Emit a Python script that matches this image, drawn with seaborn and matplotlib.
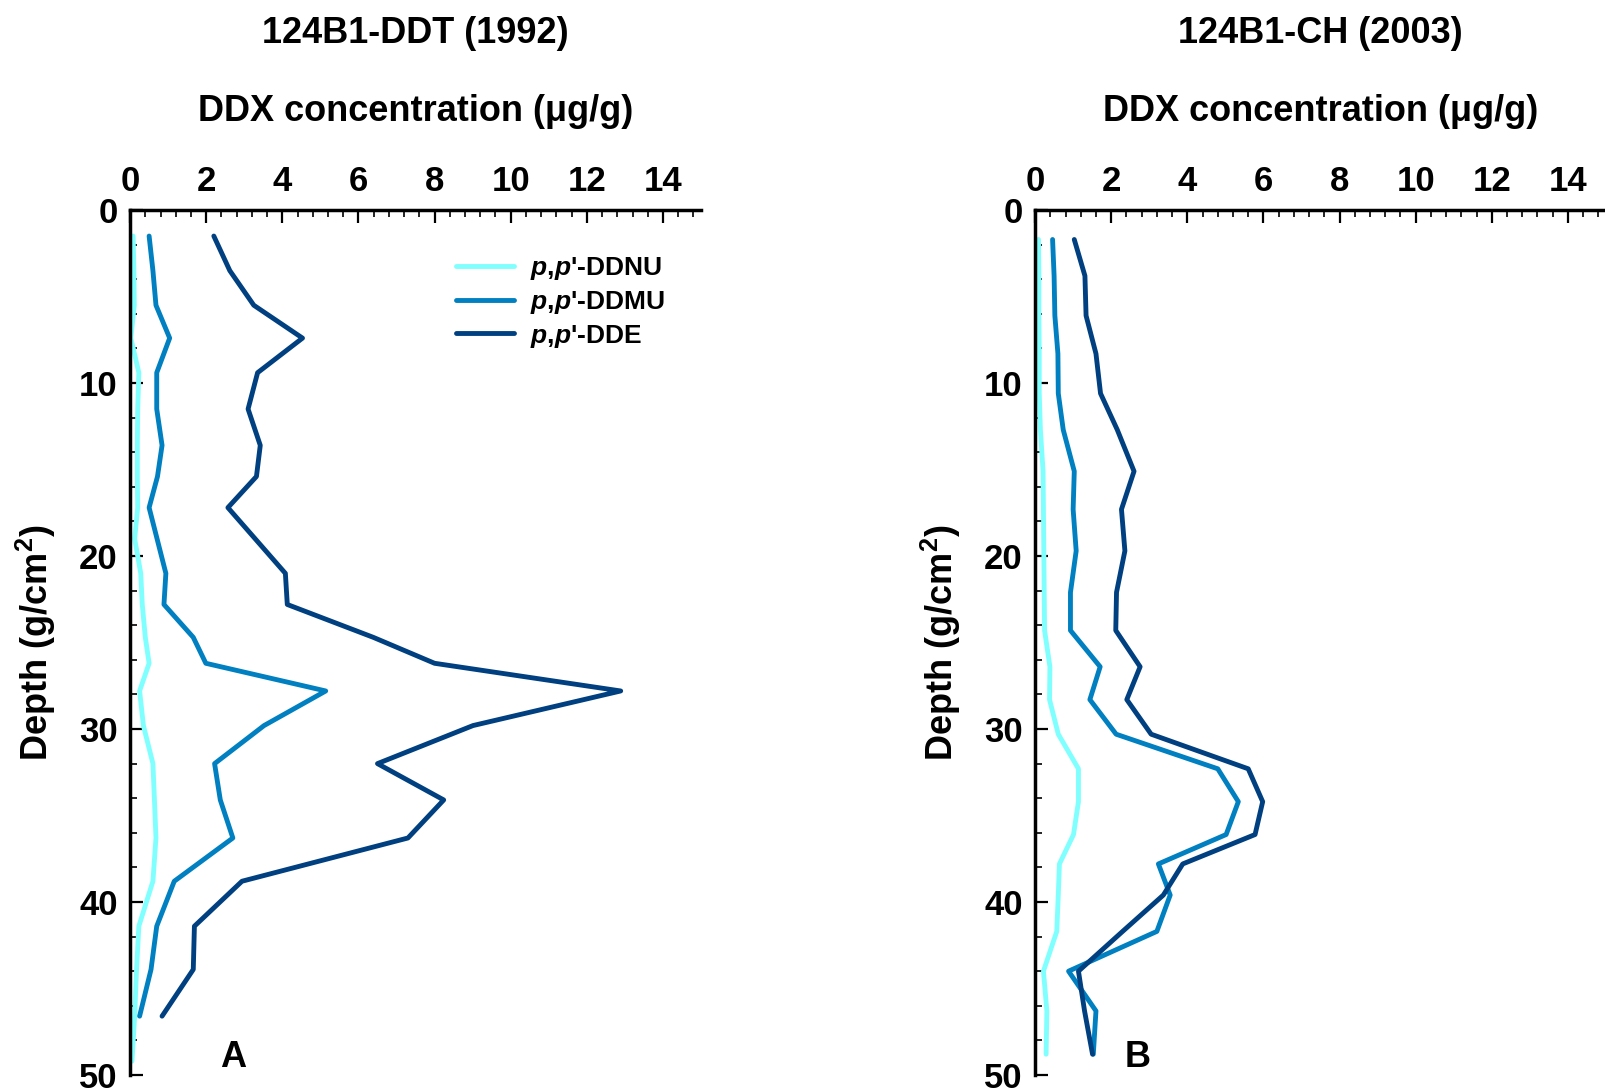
import numpy as np
import pandas as pd
import matplotlib
matplotlib.use('Agg')
import matplotlib.pyplot as plt
from matplotlib.ticker import MultipleLocator
import seaborn as sns

# Core 124B1-DDT (1992), panel A
depth_a = [1.5, 3.5, 5.5, 7.4, 9.4, 11.5, 13.6, 15.4, 17.2, 21.0, 22.8,
           24.7, 26.2, 27.8, 29.8, 32.0, 34.1, 36.3, 38.8, 41.4, 43.9, 46.6]
ddnu_depth_a = [1.5, 3.5, 5.5, 7.4, 9.4, 11.5, 13.6, 15.4, 17.2, 19.0, 21.0, 22.8,
                24.7, 26.2, 27.8, 29.8, 32.0, 34.1, 36.3, 38.8, 41.4, 43.9, 46.6, 49.2]
ddnu_a = [0.08, 0.10, 0.11, 0.02, 0.23, 0.20, 0.19, 0.19, 0.20, 0.12, 0.28, 0.32,
          0.40, 0.50, 0.25, 0.35, 0.60, 0.64, 0.68, 0.60, 0.23, 0.17, 0.12, 0.05]
ddmu_a = [0.50, 0.60, 0.68, 1.04, 0.70, 0.70, 0.84, 0.72, 0.50, 0.94, 0.89,
          1.66, 1.99, 5.14, 3.52, 2.22, 2.37, 2.70, 1.16, 0.70, 0.55, 0.25]
dde_a = [2.20, 2.62, 3.25, 4.53, 3.35, 3.10, 3.42, 3.32, 2.57, 4.08, 4.13,
         6.39, 8.00, 12.89, 9.01, 6.50, 8.24, 7.30, 2.94, 1.69, 1.66, 0.84]

# Core 124B1-CH (2003), panel B
depth_b = [1.7, 3.8, 6.1, 8.3, 10.6, 12.7, 15.1, 17.3, 19.7, 22.1, 24.3, 26.4,
           28.3, 30.3, 32.3, 34.2, 36.1, 37.8, 39.6, 41.7, 44.0, 46.3, 48.8]
ddnu_b = [0.09, 0.10, 0.10, 0.11, 0.11, 0.14, 0.21, 0.22, 0.23, 0.24, 0.25, 0.39,
          0.38, 0.61, 1.14, 1.14, 1.01, 0.64, 0.61, 0.57, 0.22, 0.31, 0.29]
ddmu_b = [0.46, 0.50, 0.52, 0.60, 0.61, 0.74, 1.03, 1.00, 1.08, 0.93, 0.93, 1.71,
          1.44, 2.13, 4.80, 5.34, 5.02, 3.24, 3.55, 3.20, 0.88, 1.60, 1.53]
dde_b = [1.03, 1.31, 1.34, 1.60, 1.72, 2.16, 2.60, 2.27, 2.36, 2.14, 2.12, 2.76,
         2.41, 3.05, 5.60, 5.98, 5.78, 3.88, 3.37, 2.30, 1.14, 1.30, 1.51]

compounds = ["$p$,$p$'-DDNU", "$p$,$p$'-DDMU", "$p$,$p$'-DDE"]
colors = ['#80FFFF', '#0080C0', '#004080']
titles = ['124B1-DDT (1992)', '124B1-CH (2003)']
panel_letters = ['A', 'B']


def long_table(depths, series):
    frames = []
    for name, (d, v) in zip(compounds, zip(depths, series)):
        frames.append(pd.DataFrame({'depth': d, 'conc': v, 'compound': name}))
    return pd.concat(frames, ignore_index=True)


data_a = long_table([ddnu_depth_a, depth_a, depth_a], [ddnu_a, ddmu_a, dde_a])
data_b = long_table([depth_b, depth_b, depth_b], [ddnu_b, ddmu_b, dde_b])

sns.set_theme(style='white')
plt.rcParams['font.family'] = ['Liberation Sans', 'DejaVu Sans']
plt.rcParams['font.weight'] = 'bold'
plt.rcParams['mathtext.fontset'] = 'custom'
plt.rcParams['mathtext.it'] = 'Liberation Sans:bold:italic'
plt.rcParams['mathtext.rm'] = 'Liberation Sans:bold'
plt.rcParams['mathtext.bf'] = 'Liberation Sans:bold'
for key in ['text.color', 'axes.labelcolor', 'xtick.color', 'ytick.color']:
    plt.rcParams[key] = 'black'

fig = plt.figure(figsize=(16.06, 10.92), dpi=100)
ax_a = fig.add_axes([0.081, 0.0156, 0.3555, 0.792])
ax_b = fig.add_axes([0.6445, 0.0156, 0.3555, 0.792])

palette = dict(zip(compounds, colors))
for ax, df, title, letter in zip([ax_a, ax_b], [data_a, data_b], titles, panel_letters):
    sns.lineplot(data=df, x='conc', y='depth', hue='compound', hue_order=compounds,
                 palette=palette, sort=False, estimator=None, orient='y',
                 linewidth=3.5, ax=ax, legend=(ax is ax_a))
    ax.set_xlim(0, 15)
    ax.set_ylim(50, 0)
    ax.xaxis.tick_top()
    ax.xaxis.set_label_position('top')
    ax.xaxis.set_major_locator(MultipleLocator(2))
    ax.xaxis.set_minor_locator(MultipleLocator(0.4))
    ax.yaxis.set_major_locator(MultipleLocator(10))
    ax.yaxis.set_minor_locator(MultipleLocator(2))
    ax.tick_params(which='major', direction='in', length=9, width=1.6,
                   labelsize=25, pad=9, color='black')
    ax.tick_params(which='minor', direction='in', length=5, width=1.2, color='black')
    ax.tick_params(axis='x', which='both', top=True, bottom=False)
    ax.tick_params(axis='y', which='both', left=True, right=False)
    for lab in ax.get_xticklabels() + ax.get_yticklabels():
        lab.set_fontweight('bold')
    for side in ['right', 'bottom']:
        ax.spines[side].set_visible(False)
    for side in ['left', 'top']:
        ax.spines[side].set_linewidth(2.5)
        ax.spines[side].set_color('black')

    ax.set_xlabel('DDX concentration (\u03bcg/g)', fontsize=26, fontweight='bold')
    ax.xaxis.set_label_coords(0.5, 1.1145)
    ax.xaxis.label.set_verticalalignment('center')
    ax.set_ylabel('Depth (g/cm$^2$)', fontsize=26, fontweight='bold')
    ax.yaxis.set_label_coords(-0.165, 0.5)
    ax.yaxis.label.set_verticalalignment('center')
    ax.text(0.5, 1.2046, title, transform=ax.transAxes, fontsize=26,
            fontweight='bold', ha='center', va='center')
    ax.text(2.7, 49.0, letter, fontsize=26, fontweight='bold', ha='center', va='center')

leg = ax_a.legend(loc='upper left', bbox_to_anchor=(0.53, 0.975), frameon=False,
                  fontsize=19, handlelength=2.2, labelspacing=0.25, handletextpad=0.6)
for line in leg.get_lines():
    line.set_linewidth(3.5)

fig.savefig('out.png', dpi=100)
